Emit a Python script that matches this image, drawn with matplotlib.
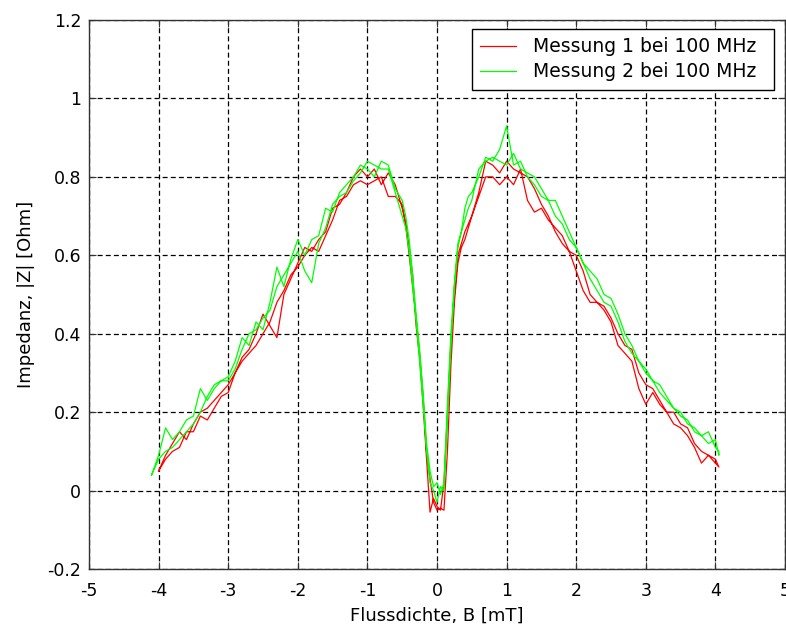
import numpy as np
import matplotlib
matplotlib.use('Agg')
import matplotlib.pyplot as plt

plt.rcParams['font.family'] = ['DejaVu Sans']

nan = np.nan

# Flussdichte B [mT] (Messpunkte)
b = [-4.1, -4.0, -3.9, -3.8, -3.7, -3.6, -3.5, -3.4, -3.3, -3.2,
     -3.1, -3.0, -2.9, -2.8, -2.7, -2.6, -2.5, -2.4, -2.3, -2.2,
     -2.1, -2.0, -1.9, -1.8, -1.7, -1.6, -1.5, -1.4, -1.3, -1.2,
     -1.1, -1.0, -0.9, -0.8, -0.7, -0.6, -0.5,
     -0.45, -0.4, -0.35, -0.3, -0.25, -0.2, -0.15, -0.1, -0.05, 0.0,
     0.05, 0.1, 0.15, 0.2, 0.25, 0.3, 0.35, 0.4, 0.45,
     0.5, 0.6, 0.7, 0.8, 0.9, 1.0, 1.1, 1.2, 1.3, 1.4,
     1.5, 1.6, 1.7, 1.8, 1.9, 2.0, 2.1, 2.2, 2.3, 2.4,
     2.5, 2.6, 2.7, 2.8, 2.9, 3.0, 3.1, 3.2, 3.3, 3.4,
     3.5, 3.6, 3.7, 3.8, 3.9, 4.0, 4.05]

# Messung 1, Hinweg / Rueckweg
z1_hin = [nan, 0.05, 0.08, 0.10, 0.11, 0.15, 0.15, 0.19, 0.18, 0.21,
          0.24, 0.25, 0.30, 0.33, 0.35, 0.37, 0.40, 0.43, 0.48, 0.51,
          0.55, 0.57, 0.60, 0.62, 0.61, 0.65, 0.69, 0.74, 0.75, 0.78,
          0.79, 0.78, 0.79, 0.80, 0.75, 0.75, 0.73,
          0.68, 0.62, 0.55, 0.42, 0.34, 0.22, 0.08, -0.055, -0.02, -0.04,
          -0.05, 0.02, 0.20, 0.38, 0.50, 0.60, 0.63, 0.66, 0.68,
          0.70, 0.75, 0.80, 0.80, 0.78, 0.80, 0.78, 0.82, 0.74, 0.71,
          0.72, 0.69, 0.67, 0.65, 0.61, 0.60, 0.56, 0.50, 0.48, 0.47,
          0.44, 0.40, 0.37, 0.36, 0.30, 0.27, 0.26, 0.23, 0.20, 0.20,
          0.17, 0.16, 0.12, 0.10, 0.09, 0.07, 0.06]
z1_rueck = [nan, 0.05, 0.09, 0.12, 0.15, 0.13, 0.17, 0.20, 0.21, 0.23,
            0.25, 0.27, 0.30, 0.34, 0.36, 0.40, 0.45, 0.42, 0.39, 0.50,
            0.54, 0.58, 0.62, 0.61, 0.64, 0.66, 0.72, 0.73, 0.76, 0.80,
            0.82, 0.80, 0.82, 0.78, 0.81, 0.78, 0.72,
            0.68, 0.60, 0.52, 0.44, 0.35, 0.24, 0.10, 0.03, -0.03, -0.05,
            -0.045, -0.05, 0.10, 0.32, 0.48, 0.58, 0.62, 0.64, 0.67,
            0.70, 0.76, 0.84, 0.83, 0.81, 0.84, 0.82, 0.81, 0.80, 0.77,
            0.73, 0.70, 0.66, 0.63, 0.61, 0.56, 0.51, 0.48, 0.48, 0.46,
            0.43, 0.37, 0.35, 0.33, 0.26, 0.22, 0.25, 0.22, 0.20, 0.17,
            0.16, 0.14, 0.11, 0.07, 0.09, 0.08, 0.06]

# Messung 2, Hinweg / Rueckweg
z2_hin = [0.04, 0.09, 0.16, 0.13, 0.15, 0.18, 0.19, 0.26, 0.23, 0.26,
          0.28, 0.29, 0.33, 0.39, 0.37, 0.43, 0.41, 0.48, 0.57, 0.52,
          0.59, 0.64, 0.60, 0.64, 0.65, 0.72, 0.71, 0.76, 0.78, 0.80,
          0.83, 0.82, 0.80, 0.84, 0.83, 0.77, 0.74,
          0.70, 0.64, 0.55, 0.45, 0.36, 0.25, 0.12, 0.05, 0.01, 0.02,
          -0.01, 0.02, 0.22, 0.40, 0.53, 0.63, 0.66, 0.72, 0.75,
          0.76, 0.80, 0.85, 0.84, 0.87, 0.93, 0.83, 0.84, 0.80, 0.78,
          0.75, 0.74, 0.70, 0.68, 0.64, 0.62, 0.58, 0.54, 0.51, 0.48,
          0.47, 0.43, 0.38, 0.35, 0.33, 0.30, 0.28, 0.25, 0.23, 0.21,
          0.20, 0.17, 0.16, 0.14, 0.12, 0.13, 0.09]
z2_rueck = [0.04, 0.08, 0.10, 0.11, 0.13, 0.15, 0.17, 0.20, 0.24, 0.27,
            0.28, 0.28, 0.31, 0.36, 0.40, 0.41, 0.44, 0.46, 0.52, 0.55,
            0.58, 0.61, 0.56, 0.53, 0.63, 0.67, 0.73, 0.75, 0.76, 0.79,
            0.81, 0.84, 0.83, 0.82, 0.82, 0.76, 0.70,
            0.67, 0.61, 0.52, 0.43, 0.33, 0.22, 0.10, 0.02, 0.00, -0.03,
            0.01, 0.00, 0.18, 0.37, 0.52, 0.62, 0.66, 0.69, 0.72,
            0.74, 0.82, 0.84, 0.85, 0.84, 0.83, 0.86, 0.82, 0.81, 0.80,
            0.77, 0.74, 0.74, 0.70, 0.66, 0.62, 0.58, 0.56, 0.54, 0.50,
            0.49, 0.45, 0.40, 0.37, 0.33, 0.31, 0.28, 0.27, 0.24, 0.21,
            0.19, 0.18, 0.15, 0.14, 0.15, 0.11, 0.10]

legende = ['Messung 1 bei 100 MHz', 'Messung 2 bei 100 MHz']

# Hin- und Rueckweg als eine Schleife pro Messung
b_loop = np.concatenate([b, b[::-1]])
z1 = np.concatenate([z1_hin, z1_rueck[::-1]])
z2 = np.concatenate([z2_hin, z2_rueck[::-1]])

fig = plt.figure(figsize=(7.86, 6.25), dpi=100)
ax = fig.add_axes([89/786, 1 - 569/625, (785 - 89)/786, (569 - 20)/625])

ax.plot(b_loop, z1, color='#ff0000', lw=0.9, label=legende[0])
ax.plot(b_loop, z2, color='#00ff00', lw=0.9, label=legende[1])

ax.set_xlim(-5, 5)
ax.set_ylim(-0.2, 1.2)
ax.set_xticks(np.arange(-5, 6, 1))
ax.set_yticks([-0.2, 0, 0.2, 0.4, 0.6, 0.8, 1, 1.2])
ax.set_yticklabels(['-0.2', '0', '0.2', '0.4', '0.6', '0.8', '1', '1.2'])
ax.set_xticklabels([str(v) for v in range(-5, 6)])
ax.grid(True, color='black', linestyle=(0, (4, 2.5)), linewidth=0.9)
ax.tick_params(direction='in', length=5, top=True, right=True,
               labelsize=12.5, colors='#333333', labelcolor='black')
ax.tick_params(axis='x', pad=9)
ax.tick_params(axis='y', pad=5.5)
for s in ax.spines.values():
    s.set_color('#333333')
    s.set_linewidth(1.0)

ax.set_xlabel('Flussdichte, B [mT]', fontsize=13, labelpad=5)
ax.set_ylabel('Impedanz, |Z| [Ohm]', fontsize=13, labelpad=9)

# Legendenkasten wie im Original etwas breiter
leg = ax.legend(loc='upper left', bbox_to_anchor=(0.5503, 0.0, 0.434, 0.9836),
                mode='expand', borderaxespad=0.0,
                fontsize=13.5, frameon=True, fancybox=False,
                edgecolor='black', framealpha=1, handlelength=1.9,
                handletextpad=0.9, borderpad=0.45, labelspacing=0.3)
leg.get_frame().set_linewidth(1.0)

fig.savefig('out.png', dpi=100)
